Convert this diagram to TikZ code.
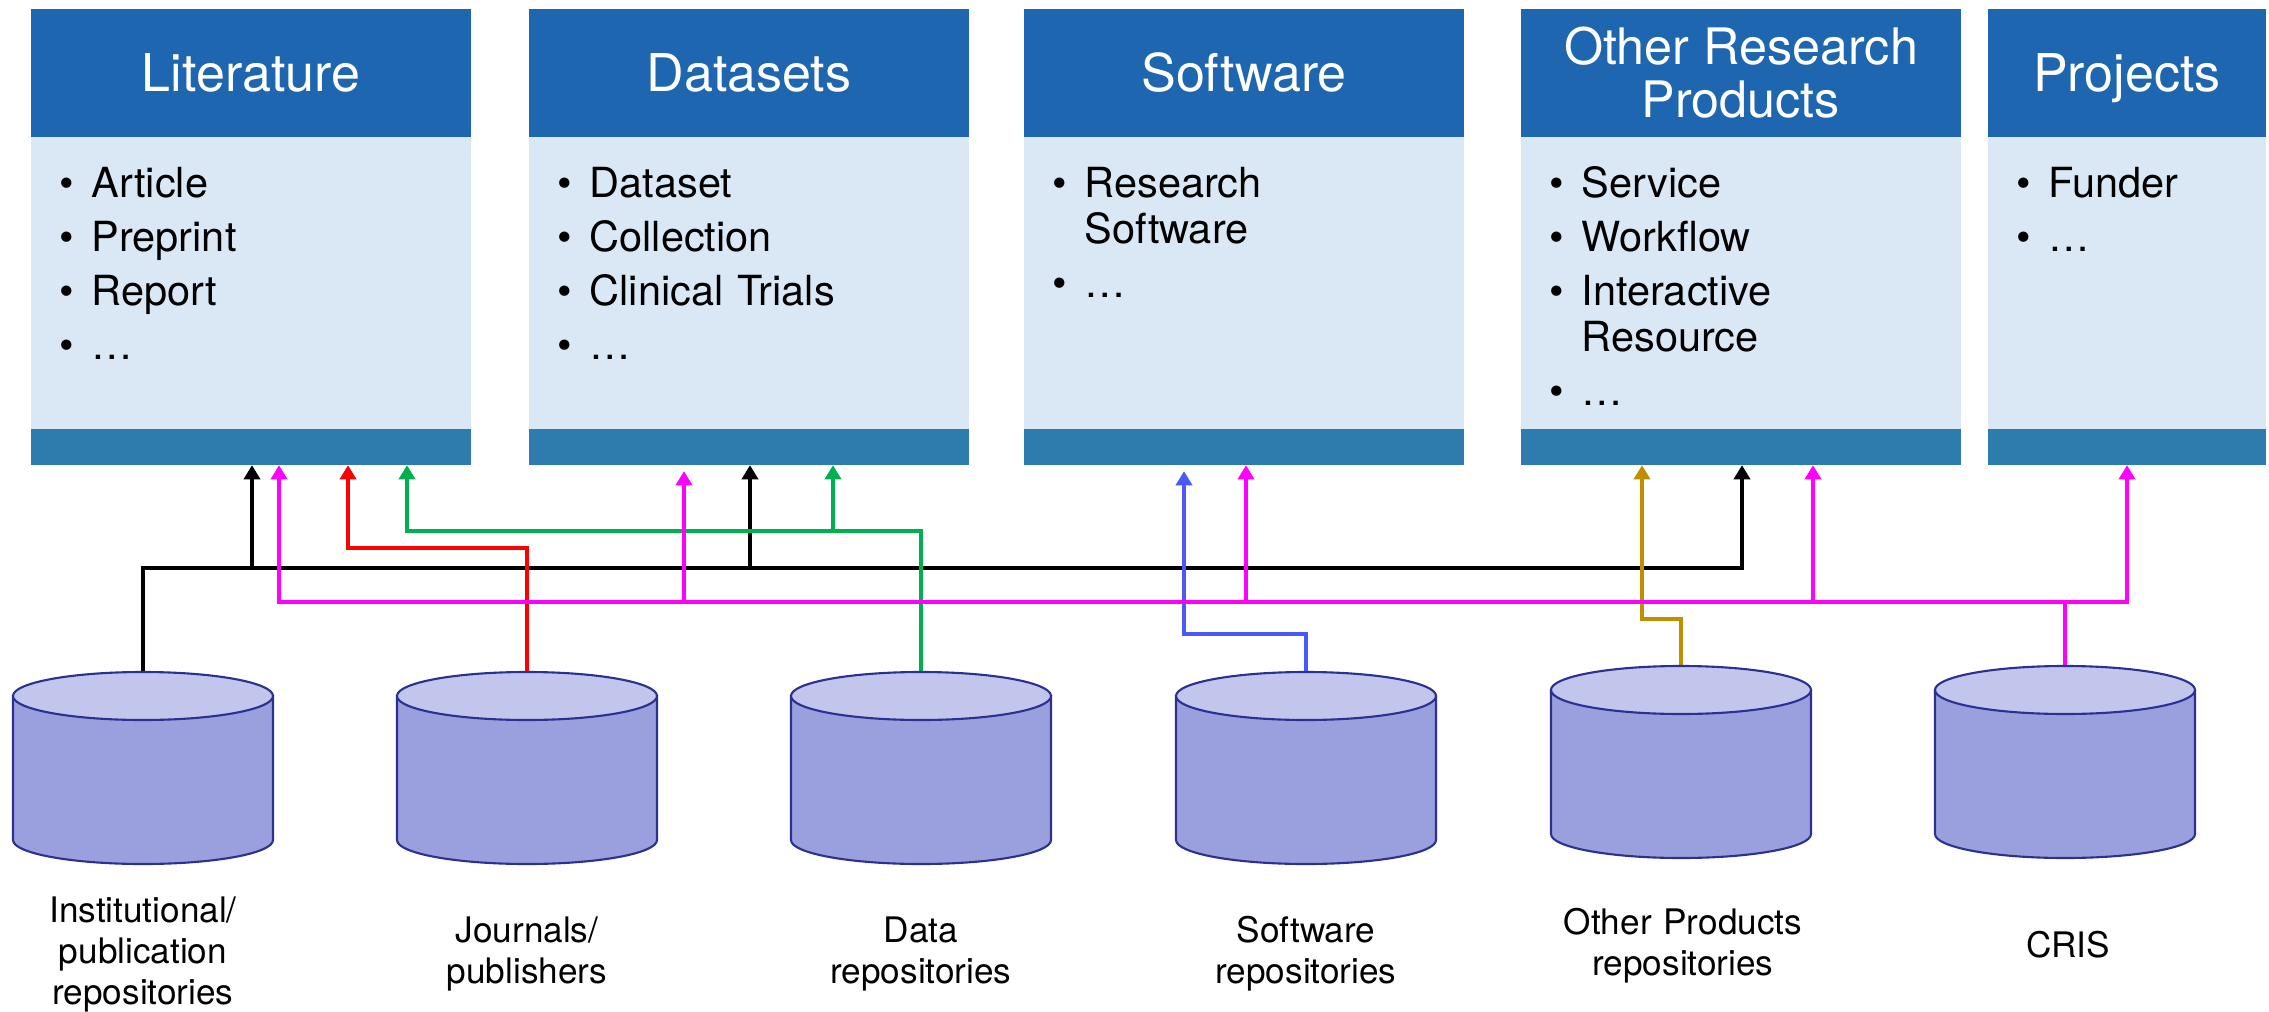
\documentclass[tikz,border=0pt]{standalone}
\usepackage{fontspec}
\setmainfont{TeX Gyre Heros}
\usepackage{tikz}
\usetikzlibrary{arrows.meta, positioning, calc}

\definecolor{headblue}{RGB}{31,102,176}
\definecolor{bodyblue}{RGB}{218,232,246}
\definecolor{footblue}{RGB}{46,124,174}
\definecolor{dbtop}{RGB}{195,198,236}
\definecolor{dbside}{RGB}{154,160,221}
\definecolor{dbedge}{RGB}{43,49,145}
\definecolor{feedgreen}{RGB}{0,176,80}
\definecolor{feedblue}{RGB}{74,88,255}
\definecolor{feedgold}{RGB}{191,143,0}
\definecolor{feedmag}{RGB}{255,0,255}

\newcommand{\itm}{\makebox[3.2mm][l]{\textbullet}}
\newcommand{\wrp}{\hspace*{3.2mm}}

\begin{document}
\begin{tikzpicture}[x=0.01cm, y=-0.01cm, >={Triangle[width=4.6pt,length=4pt]},
    boxhead/.style={fill=headblue, text=white, minimum width=4.4cm, minimum height=1.28cm,
        inner sep=0, outer sep=0, align=center, font=\fontsize{14.8pt}{16pt}\selectfont},
    boxbody/.style={fill=bodyblue, minimum width=4.4cm, minimum height=2.92cm, inner sep=0, outer sep=0},
    boxfoot/.style={fill=footblue, minimum width=4.4cm, minimum height=0.36cm, inner sep=0, outer sep=0},
    itemlist/.style={anchor=base west, inner sep=0, text width=3.9cm, align=left,
        font=\fontsize{11.8pt}{13.1pt}\selectfont},
    dblabel/.style={anchor=base, inner sep=0, text width=3cm, align=center,
        font=\fontsize{10pt}{11.7pt}\selectfont},
    dbside/.style={fill=dbside, draw=dbedge, line width=0.6pt},
    dbtop/.style={fill=dbtop, draw=dbedge, line width=0.6pt},
    feed/.style={line width=0.9pt, ->}]
    \useasboundingbox (0,0) rectangle (2269,1012);

    % Literature
    \node[boxhead] (lit) at (251,73) {Literature};
    \node[boxbody, below=0pt of lit] (litbody) {};
    \node[boxfoot, below=0pt of litbody] (litbar) {};
    \node[itemlist] (litlist) at (59,197) {\itm Article\\[2.3pt]\itm Preprint\\[2.3pt]\itm Report\\[2.3pt]\itm \ldots};

    % Datasets
    \node[boxhead] (dat) at (749,73) {Datasets};
    \node[boxbody, below=0pt of dat] (datbody) {};
    \node[boxfoot, below=0pt of datbody] (datbar) {};
    \node[itemlist] (datlist) at (557,197) {\itm Dataset\\[2.3pt]\itm Collection\\[2.3pt]\itm Clinical Trials\\[2.3pt]\itm \ldots};

    % Software
    \node[boxhead] (sw) at (1244,73) {Software};
    \node[boxbody, below=0pt of sw] (swbody) {};
    \node[boxfoot, below=0pt of swbody] (swbar) {};
    \node[itemlist] (swlist) at (1052,197) {\itm Research\\\wrp Software\\[2.3pt]\itm \ldots};

    % Other research products
    \node[boxhead, font=\fontsize{14.3pt}{15.1pt}\selectfont] (orp) at (1741,73) {Other Research\\Products};
    \node[boxbody, below=0pt of orp] (orpbody) {};
    \node[boxfoot, below=0pt of orpbody] (orpbar) {};
    \node[itemlist] (orplist) at (1549,197) {\itm Service\\[2.3pt]\itm Workflow\\[2.3pt]\itm Interactive\\\wrp Resource\\[2.3pt]\itm \ldots};

    % Projects
    \node[boxhead, minimum width=2.78cm, text depth=0pt] (proj) at (2127,73) {Projects};
    \node[boxbody, minimum width=2.78cm, below=0pt of proj] (projbody) {};
    \node[boxfoot, minimum width=2.78cm, below=0pt of projbody] (projbar) {};
    \node[itemlist, text width=2.4cm] (projlist) at (2016,197) {\itm Funder\\[2.3pt]\itm \ldots};

    % Sources
    \foreach \nm/\cx/\ct in {inst/143/672, jour/527/672, data/921/672, soft/1306/672, orpsrc/1681/666, cris/2065/666}{
        \coordinate (\nm) at (\cx,\ct);
    }

    % Feeds
    \draw[feed] (inst) |- (1742,568) -- (1742,568 |- orpbar.south);
    \draw[feed] (252,568) -- (252,568 |- litbar.south);
    \draw[feed] (750,568) -- (750,568 |- datbar.south);

    \draw[feed, red] (jour) |- (348,548) -- (348,548 |- litbar.south);

    \draw[feed, feedgreen] (data) |- (407,531) -- (407,531 |- litbar.south);
    \draw[feed, feedgreen] (833,531) -- (833,531 |- datbar.south);

    \draw[feed, feedblue] (soft) |- (1184,634) -- ($(1184,634 |- swbar.south)+(0,6)$);

    \draw[feed, feedgold] (orpsrc) |- (1642,619) -- (1642,619 |- orpbar.south);

    \draw[feed, feedmag] (cris) |- (2127,602) -- (2127,602 |- projbar.south);
    \draw[feed, feedmag] (2065,602) -- (279,602) -- (279,602 |- litbar.south);
    \draw[feed, feedmag] (684,602) -- ($(684,602 |- datbar.south)+(0,6)$);
    \draw[feed, feedmag] (1246,602) -- (1246,602 |- swbar.south);
    \draw[feed, feedmag] (1813,602) -- (1813,602 |- orpbar.south);

    % Repositories
    \foreach \cx/\ct in {143/672, 527/672, 921/672, 1306/672, 1681/666, 2065/666}{
        \filldraw[dbside] (\cx-130,\ct+24) -- (\cx-130,\ct+168)
            arc[start angle=180, end angle=0, x radius=130, y radius=24] -- (\cx+130,\ct+24) -- cycle;
        \filldraw[dbtop] (\cx,\ct+24) ellipse [x radius=130, y radius=24];
    }

    \node[dblabel] (instlbl) at (143,922) {Institutional/\\publication\\repositories};
    \node[dblabel] (jourlbl) at (527,942) {Journals/\\publishers};
    \node[dblabel] (datalbl) at (921,942) {Data\\repositories};
    \node[dblabel] (softlbl) at (1306,942) {Software\\repositories};
    \node[dblabel] (orplbl) at (1683,934) {Other Products\\repositories};
    \node[dblabel] (crislbl) at (2068,957) {CRIS};
\end{tikzpicture}
\end{document}
